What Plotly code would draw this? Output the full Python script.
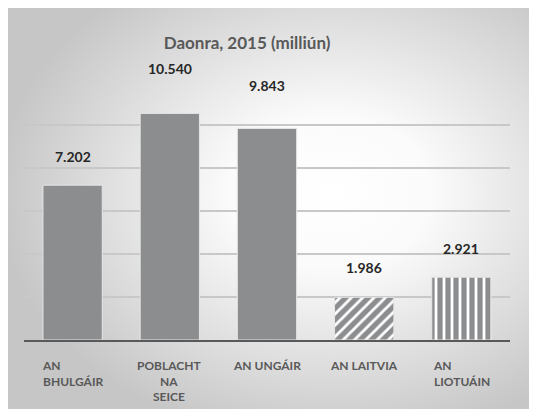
import base64
import plotly.graph_objects as go

categories = ["AN<br>BHULGÁIR", "POBLACHT<br>NA<br>SEICE", "AN UNGÁIR", "AN LAITVIA", "AN<br>LIOTUÁIN"]
values = [7.202, 10.540, 9.843, 1.986, 2.921]
value_labels = ["7.202", "10.540", "9.843", "1.986", "2.921"]
keys = ["bg", "cz", "hu", "lv", "lt"]

# styles
label_offsets = [29, 45, 43, 30, 29]
label_align = ["left", "center", "center", "center", "left"]
patterns = ["", "", "", "/", "|"]
BAR = "#8c8d8f"
FONT = "Lato"

W, H = 537, 409
L, R, T, B = 16, 35, 74, 77
PW, PH = W - L - R, H - T - B

svg = """<svg xmlns='http://www.w3.org/2000/svg' width='537' height='409' viewBox='0 0 537 409' preserveAspectRatio='none'>
<defs><radialGradient id='g' cx='60%' cy='45%' r='62%'>
<stop offset='0' stop-color='#ffffff'/><stop offset='0.3' stop-color='#fbfbfb'/>
<stop offset='1' stop-color='#c6c6c6'/></radialGradient></defs>
<rect width='537' height='409' fill='url(#g)'/></svg>"""
src = "data:image/svg+xml;base64," + base64.b64encode(svg.encode()).decode()

fig = go.Figure()
fig.add_trace(go.Bar(
    x=keys, y=values, width=0.61,
    marker=dict(color=BAR, line=dict(color="#e6e6e6", width=1),
                pattern=dict(shape=patterns, fgcolor="#ffffff", bgcolor=BAR,
                             size=8, solidity=0.35, fillmode="replace")),
    hoverinfo="skip",
))

annotations = []
for k, v, t, off in zip(keys, values, value_labels, label_offsets):
    annotations.append(dict(x=k, y=v, xref="x", yref="y", text=t, showarrow=False,
                            yshift=off, yanchor="middle",
                            font=dict(family=FONT, size=14, color="#262626", weight="bold")))
for k, c, al in zip(keys, categories, label_align):
    annotations.append(dict(x=k, y=0, xref="x", yref="paper", text=c, showarrow=False,
                            yshift=-16, yanchor="top", xanchor="center", align=al,
                            font=dict(family=FONT, size=12, color="#595959", weight="bold")))

fig.update_layout(
    width=W, height=H,
    margin=dict(l=L, r=R, t=T, b=B),
    paper_bgcolor="#ffffff", plot_bgcolor="rgba(0,0,0,0)",
    showlegend=False,
    title=dict(text="Daonra, 2015 (milliún)", x=0.459, xref="paper", xanchor="center",
               y=1 - 35 / H, yref="container", yanchor="middle",
               font=dict(family=FONT, size=17, color="#595959", weight="bold")),
    xaxis=dict(showticklabels=False, showgrid=False, showline=True, linecolor="#595959",
               linewidth=2, ticks="", zeroline=False),
    yaxis=dict(range=[0, 12], dtick=2, showticklabels=False, showgrid=True,
               gridcolor="#c8c8c8", gridwidth=2, zeroline=False, showline=False, ticks=""),
    annotations=annotations,
    images=[dict(source=src, xref="paper", yref="paper", x=-L / PW, y=(PH + T) / PH,
                 sizex=W / PW, sizey=H / PH, sizing="stretch", xanchor="left",
                 yanchor="top", layer="below")],
    bargap=0.39,
)

fig.write_html("out.html")
